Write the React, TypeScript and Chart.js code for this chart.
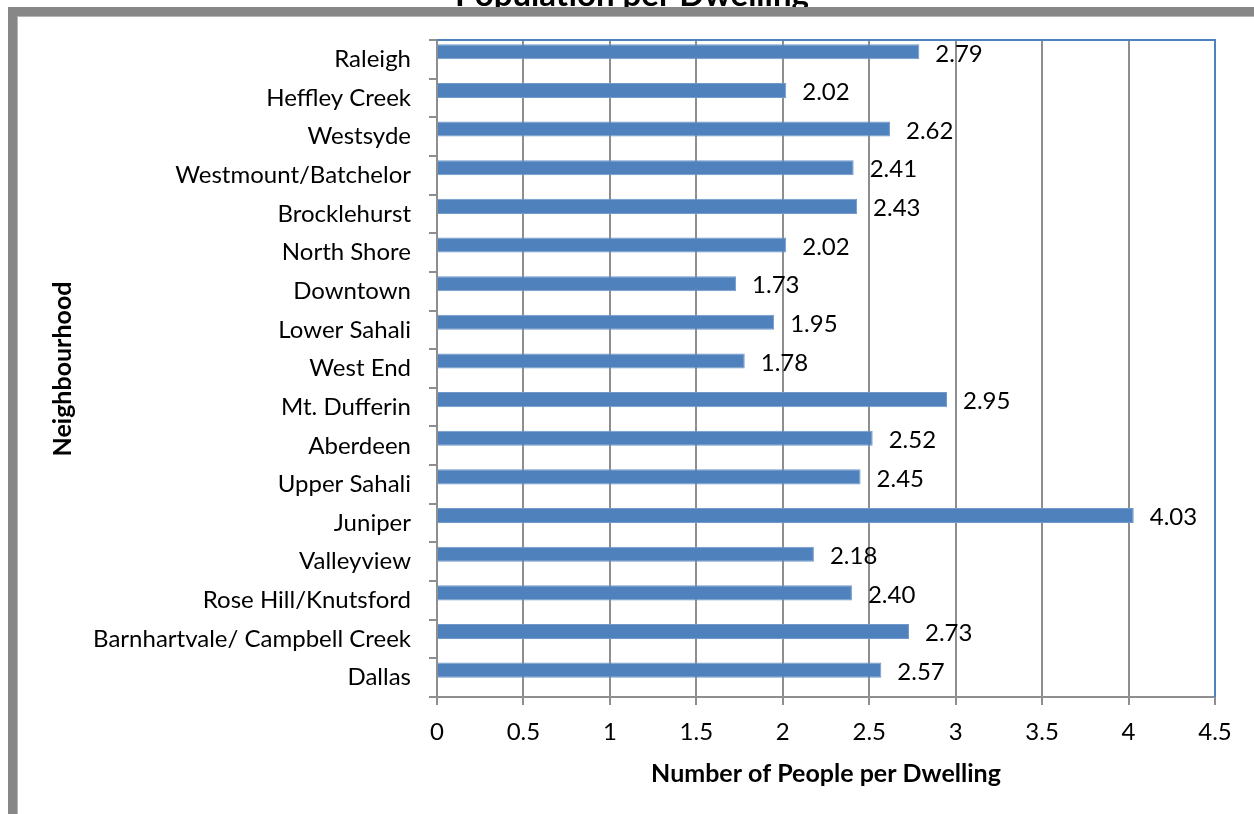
import React, { useEffect, useRef } from "react";
import { Chart, registerables } from "chart.js";

Chart.register(...registerables);

const chartTitle = "Population per Dwelling";
const xAxisTitle = "Number of People per Dwelling";
const yAxisTitle = "Neighbourhood";

const neighbourhoods = [
  "Raleigh",
  "Heffley Creek",
  "Westsyde",
  "Westmount/Batchelor",
  "Brocklehurst",
  "North Shore",
  "Downtown",
  "Lower Sahali",
  "West End",
  "Mt. Dufferin",
  "Aberdeen",
  "Upper Sahali",
  "Juniper",
  "Valleyview",
  "Rose Hill/Knutsford",
  "Barnhartvale/ Campbell Creek",
  "Dallas",
];

const peoplePerDwelling = [
  2.79, 2.02, 2.62, 2.41, 2.43, 2.02, 1.73, 1.95, 1.78, 2.95, 2.52, 2.45, 4.03,
  2.18, 2.4, 2.73, 2.57,
];

// Excel chart had an empty second series that reserves half of each slot
const emptySeries: (number | null)[] = [];

const xMin = 0;
const xMax = 4.5;
const xStep = 0.5;

const FONT = "Lato, Carlito, Calibri, sans-serif";
const BAR_BLUE = "#4F81BD";
const GRID_GRAY = "#8e8e8e";

const decorPlugin = {
  id: "decor",
  beforeDraw(chart: any) {
    const ctx = chart.ctx as CanvasRenderingContext2D;
    ctx.save();
    ctx.fillStyle = "#ffffff";
    ctx.fillRect(0, 0, chart.width, chart.height);
    // main title (partly cut off at the top)
    ctx.fillStyle = "#000000";
    ctx.font = `bold 33px ${FONT}`;
    ctx.textAlign = "center";
    ctx.textBaseline = "alphabetic";
    ctx.fillText(chartTitle, 632, 6);
    // outer frame
    ctx.fillStyle = "#878787";
    ctx.fillRect(8, 7, chart.width - 8, 9);
    ctx.fillRect(8, 7, 9, chart.height - 7);
    ctx.fillStyle = "#b4b4b4";
    ctx.fillRect(17, 16, chart.width - 17, 1);
    ctx.fillRect(17, 16, 1, chart.height - 16);
    ctx.restore();
  },
  afterDraw(chart: any) {
    const ctx = chart.ctx as CanvasRenderingContext2D;
    const a = chart.chartArea;
    ctx.save();
    // plot area border (top and right in blue)
    ctx.strokeStyle = BAR_BLUE;
    ctx.lineWidth = 2;
    ctx.beginPath();
    ctx.moveTo(a.left, a.top);
    ctx.lineTo(a.right, a.top);
    ctx.lineTo(a.right, a.bottom);
    ctx.stroke();

    // data labels
    ctx.fillStyle = "#000000";
    ctx.font = `24px ${FONT}`;
    ctx.textAlign = "left";
    ctx.textBaseline = "middle";
    const meta = chart.getDatasetMeta(0);
    meta.data.forEach((bar: any, i: number) => {
      ctx.fillText(peoplePerDwelling[i].toFixed(2), bar.x + 16, bar.y + 2);
    });

    // axis titles
    ctx.font = `bold 25px ${FONT}`;
    ctx.textAlign = "center";
    ctx.fillText(xAxisTitle, (a.left + a.right) / 2, 774);
    ctx.translate(63, 369);
    ctx.rotate(-Math.PI / 2);
    ctx.fillText(yAxisTitle, 0, 0);
    ctx.restore();
  },
};

export default function App() {
  const canvasRef = useRef<HTMLCanvasElement | null>(null);

  useEffect(() => {
    if (!canvasRef.current) return;
    const chart = new Chart(canvasRef.current, {
      type: "bar",
      data: {
        labels: neighbourhoods,
        datasets: [
          {
            label: "People per Dwelling",
            data: peoplePerDwelling,
            backgroundColor: BAR_BLUE,
            borderColor: "#7299cb",
            borderWidth: 1,
            categoryPercentage: 0.78,
            barPercentage: 1,
          },
          {
            label: "",
            data: emptySeries,
            backgroundColor: BAR_BLUE,
            categoryPercentage: 0.78,
            barPercentage: 1,
          },
        ],
      },
      options: {
        indexAxis: "y",
        animation: false,
        responsive: false,
        devicePixelRatio: 1,
        layout: { padding: { top: 40, right: 39, left: 0, bottom: 0 } },
        plugins: {
          legend: { display: false },
          title: { display: false },
          tooltip: { enabled: false },
        },
        scales: {
          x: {
            type: "linear",
            min: xMin,
            max: xMax,
            ticks: {
              stepSize: xStep,
              color: "#000000",
              font: { family: FONT, size: 24 },
              padding: 13,
              callback: (v: any) => String(Number(v)),
            },
            grid: {
              color: GRID_GRAY,
              lineWidth: 2,
              drawTicks: true,
              tickLength: 8,
            },
            border: { color: GRID_GRAY, width: 2 },
            afterFit(scale: any) {
              scale.height = 117;
            },
          },
          y: {
            type: "category",
            ticks: {
              autoSkip: false,
              color: "#000000",
              font: { family: FONT, size: 24 },
              padding: 18,
            },
            grid: {
              drawOnChartArea: false,
              drawTicks: true,
              tickLength: 8,
              color: GRID_GRAY,
              lineWidth: 2,
              offset: true,
            },
            border: { color: GRID_GRAY, width: 2 },
            afterFit(scale: any) {
              scale.width = 437;
            },
          },
        },
      },
      plugins: [decorPlugin],
    });
    return () => chart.destroy();
  }, []);

  return (
    <canvas
      ref={canvasRef}
      width={1254}
      height={814}
      style={{ position: "fixed", left: 0, top: 0, width: 1254, height: 814 }}
    />
  );
}
